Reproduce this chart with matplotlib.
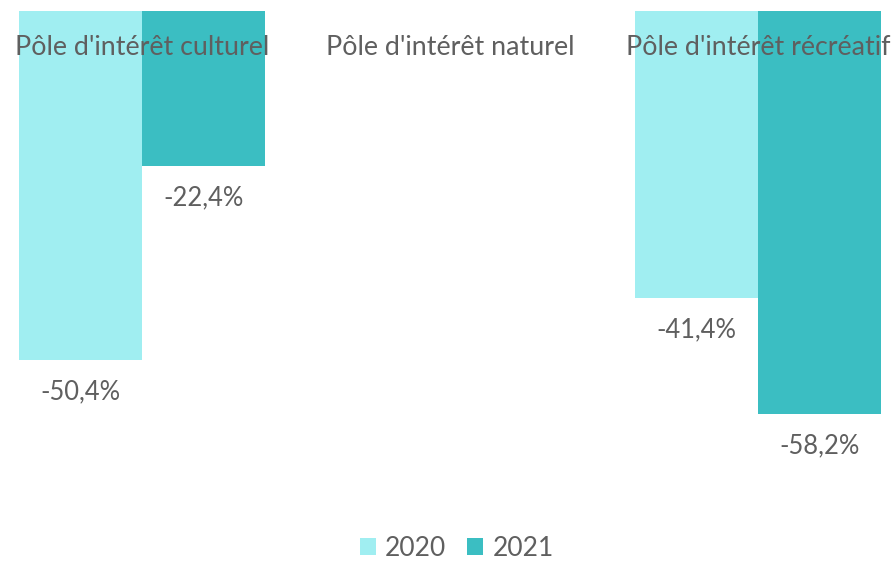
import matplotlib
matplotlib.use('Agg')
import matplotlib.pyplot as plt
import numpy as np

# data
categories = ["Pôle d'intérêt culturel", "Pôle d'intérêt naturel", "Pôle d'intérêt récréatif"]
series = ['2020', '2021']
values_2020 = [-50.4, np.nan, -41.4]
values_2021 = [-22.4, np.nan, -58.2]
colors = ['#A0EEF1', '#3BBEC2']
text_color = '#5F5F5F'

plt.rcParams['font.family'] = ['Lato', 'DejaVu Sans']

fig = plt.figure(figsize=(8.94, 5.61), dpi=100)
ax = fig.add_axes([0, 1 - 500 / 561, 1, 489 / 561])

x = np.arange(len(categories))
w = 0.4
for i, (vals, name) in enumerate(zip([values_2020, values_2021], series)):
    pos = x + (i - 0.5) * w
    ax.bar(pos, vals, w, color=colors[i], label=name, align='center')
    for p, v in zip(pos, vals):
        if np.isnan(v):
            continue
        ax.annotate('{:.1f}%'.format(v).replace('.', ','), (p, v),
                    xytext=(0, -23), textcoords='offset points',
                    ha='center', va='center', fontsize=18.4, color=text_color)

for xi, c in zip(x, categories):
    ax.annotate(c, (xi, 0), xytext=(0, -26.5), textcoords='offset points',
                ha='center', va='center', fontsize=19.3, color=text_color)

ax.set_xlim((0 - 142) / 308, (894 - 142) / 308)
ax.set_ylim(-489 / 6.93, 0)
ax.axis('off')

leg = fig.legend(loc='center', ncol=2, frameon=False, fontsize=19,
                 handlelength=0.6, handleheight=0.6, handletextpad=0.35,
                 columnspacing=0.8, borderaxespad=0, borderpad=0.1,
                 bbox_to_anchor=(0.511, 1 - 548 / 561))
for t in leg.get_texts():
    t.set_color(text_color)

fig.savefig('out.png', dpi=100)
